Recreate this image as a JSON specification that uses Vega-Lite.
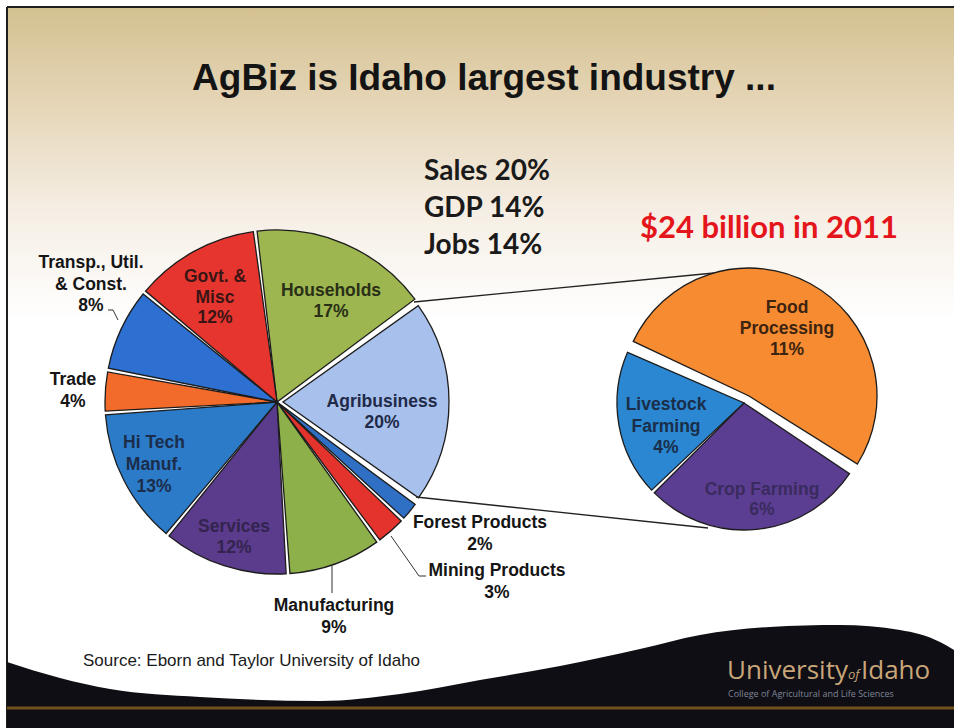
{
"$schema":"https://vega.github.io/schema/vega-lite/v6.json",
"width":954,"height":728,"autosize":"none","padding":0,"background":"#ffffff",
"config":{"view":{"stroke":null},"text":{"font":"Liberation Sans"}},
"datasets":{
"sectors":[
{"sector":"Households","share":17,"ord":1,"label":"Households\n17%"},
{"sector":"Agribusiness","share":20,"ord":2,"label":"Agribusiness\n20%"},
{"sector":"Forest Products","share":2,"ord":3,"label":"Forest Products\n2%"},
{"sector":"Mining Products","share":3,"ord":4,"label":"Mining Products\n3%"},
{"sector":"Manufacturing","share":9,"ord":5,"label":"Manufacturing\n9%"},
{"sector":"Services","share":12,"ord":6,"label":"Services\n12%"},
{"sector":"Hi Tech Manuf.","share":13,"ord":7,"label":"Hi Tech\nManuf.\n13%"},
{"sector":"Trade","share":4,"ord":8,"label":"Trade\n4%"},
{"sector":"Transp., Util. & Const.","share":8,"ord":9,"label":"Transp., Util.\n& Const.\n8%"},
{"sector":"Govt. & Misc","share":12,"ord":10,"label":"Govt. &\nMisc\n12%"}
],
"agri":[
{"sector":"Food Processing","share":11,"ord":1,"label":"Food\nProcessing\n11%"},
{"sector":"Crop Farming","share":6,"ord":2,"label":"Crop Farming\n6%"},
{"sector":"Livestock Farming","share":4,"ord":3,"label":"Livestock\nFarming\n4%"}
],
"wave":[{"x":7,"y":662},{"x":60,"y":678},{"x":110,"y":689},{"x":200,"y":697},{"x":320,"y":701},{"x":400,"y":694},{"x":480,"y":680},{"x":560,"y":666},{"x":640,"y":649},{"x":700,"y":635},{"x":770,"y":627},{"x":840,"y":625},{"x":900,"y":630},{"x":940,"y":642},{"x":954,"y":650}]
},
"resolve":{"scale":{"theta":"independent","color":"independent"}},
"layer":[
{"data":{"values":[{}]},"mark":{"type":"rect","color":{"gradient":"linear","x1":0,"y1":0,"x2":0,"y2":1,"stops":[{"offset":0,"color":"#d3c190"},{"offset":0.3,"color":"#e5d5b6"},{"offset":0.65,"color":"#f5eee4"},{"offset":1,"color":"#ffffff"}]}},
 "encoding":{"x":{"datum":7,"type":"quantitative","scale":{"domain":[0,954],"nice":false,"zero":false},"axis":null},"x2":{"datum":954},"y":{"datum":7,"type":"quantitative","scale":{"domain":[0,728],"nice":false,"zero":false,"reverse":true},"axis":null},"y2":{"datum":320}}},
{"data":{"values":[{}]},"mark":{"type":"rule","color":"#1e1e1e","strokeWidth":2},
 "encoding":{"x":{"datum":7,"type":"quantitative","scale":{"domain":[0,954],"nice":false,"zero":false},"axis":null},"x2":{"datum":954},"y":{"datum":7,"type":"quantitative","scale":{"domain":[0,728],"nice":false,"zero":false,"reverse":true},"axis":null},"y2":{"datum":7}}},
{"data":{"values":[{}]},"mark":{"type":"rule","color":"#1e1e1e","strokeWidth":2},
 "encoding":{"x":{"datum":7,"type":"quantitative","scale":{"domain":[0,954],"nice":false,"zero":false},"axis":null},"x2":{"datum":7},"y":{"datum":7,"type":"quantitative","scale":{"domain":[0,728],"nice":false,"zero":false,"reverse":true},"axis":null},"y2":{"datum":728}}},
{"data":{"name":"wave"},"mark":{"type":"area","color":"#0e0e14","interpolate":"monotone","orient":"vertical"},
 "encoding":{"x":{"field":"x","type":"quantitative","scale":{"domain":[0,954],"nice":false,"zero":false},"axis":null},"y":{"field":"y","type":"quantitative","scale":{"domain":[0,728],"nice":false,"zero":false,"reverse":true},"axis":null},"y2":{"datum":728}}},
{"data":{"values":[{}]},"mark":{"type":"rule","color":"#6f5119","strokeWidth":3},
 "encoding":{"x":{"datum":7,"type":"quantitative","scale":{"domain":[0,954],"nice":false,"zero":false},"axis":null},"x2":{"datum":954},"y":{"datum":708,"type":"quantitative","scale":{"domain":[0,728],"nice":false,"zero":false,"reverse":true},"axis":null},"y2":{"datum":708}}},
{"data":{"values":[{}]},"mark":{"type":"text","text":"University","font":"Open Sans","fontSize":26,"color":"#c9a679","align":"left","baseline":"alphabetic"},
 "encoding":{"x":{"datum":727,"type":"quantitative","scale":{"domain":[0,954],"nice":false,"zero":false},"axis":null},"y":{"datum":679,"type":"quantitative","scale":{"domain":[0,728],"nice":false,"zero":false,"reverse":true},"axis":null}}},
{"data":{"values":[{}]},"mark":{"type":"text","text":"of","font":"Open Sans","fontSize":13,"fontStyle":"italic","color":"#c9a679","align":"left","baseline":"alphabetic"},
 "encoding":{"x":{"datum":848,"type":"quantitative","scale":{"domain":[0,954],"nice":false,"zero":false},"axis":null},"y":{"datum":679,"type":"quantitative","scale":{"domain":[0,728],"nice":false,"zero":false,"reverse":true},"axis":null}}},
{"data":{"values":[{}]},"mark":{"type":"text","text":"Idaho","font":"Open Sans","fontSize":26,"color":"#c9a679","align":"left","baseline":"alphabetic"},
 "encoding":{"x":{"datum":861,"type":"quantitative","scale":{"domain":[0,954],"nice":false,"zero":false},"axis":null},"y":{"datum":679,"type":"quantitative","scale":{"domain":[0,728],"nice":false,"zero":false,"reverse":true},"axis":null}}},
{"data":{"values":[{}]},"mark":{"type":"text","text":"College of Agricultural and Life Sciences","font":"Open Sans","fontSize":9,"color":"#7f8597","align":"left","baseline":"alphabetic"},
 "encoding":{"x":{"datum":728,"type":"quantitative","scale":{"domain":[0,954],"nice":false,"zero":false},"axis":null},"y":{"datum":697,"type":"quantitative","scale":{"domain":[0,728],"nice":false,"zero":false,"reverse":true},"axis":null}}},
{"data":{"name":"sectors"},"transform":[{"stack":"share","groupby":[],"sort":[{"field":"ord","order":"ascending"}],"as":["t0","t1"]},{"filter":"datum.sector !== 'Agribusiness'"}],
 "mark":{"type":"arc","outerRadius":172,"padAngle":0.022,"stroke":"#1c1c1c","strokeWidth":1.3},
 "encoding":{"x":{"datum":277,"type":"quantitative","scale":{"domain":[0,954],"nice":false,"zero":false},"axis":null},"y":{"datum":402,"type":"quantitative","scale":{"domain":[0,728],"nice":false,"zero":false,"reverse":true},"axis":null},
  "theta":{"field":"t0","type":"quantitative","scale":{"domain":[0,100],"range":[-0.127,6.156]}},"theta2":{"field":"t1"},
  "color":{"field":"sector","type":"nominal","legend":null,"scale":{"domain":["Households","Agribusiness","Forest Products","Mining Products","Manufacturing","Services","Hi Tech Manuf.","Trade","Transp., Util. & Const.","Govt. & Misc"],"range":["#9db64f","#a8c0ec","#2f6fc4","#e4322c","#8db04a","#5b3b8b","#2c7bc9","#f26b2b","#2d70d2","#e6352f"]}}}},
{"data":{"name":"sectors"},"transform":[{"stack":"share","groupby":[],"sort":[{"field":"ord","order":"ascending"}],"as":["t0","t1"]},{"filter":"datum.sector === 'Agribusiness'"}],
 "mark":{"type":"arc","outerRadius":166,"padAngle":0.022,"stroke":"#1c1c1c","strokeWidth":1.3},
 "encoding":{"x":{"datum":283,"type":"quantitative","scale":{"domain":[0,954],"nice":false,"zero":false},"axis":null},"y":{"datum":402,"type":"quantitative","scale":{"domain":[0,728],"nice":false,"zero":false,"reverse":true},"axis":null},
  "theta":{"field":"t0","type":"quantitative","scale":{"domain":[0,100],"range":[-0.127,6.156]}},"theta2":{"field":"t1"},
  "color":{"field":"sector","type":"nominal","legend":null,"scale":{"domain":["Households","Agribusiness","Forest Products","Mining Products","Manufacturing","Services","Hi Tech Manuf.","Trade","Transp., Util. & Const.","Govt. & Misc"],"range":["#9db64f","#a8c0ec","#2f6fc4","#e4322c","#8db04a","#5b3b8b","#2c7bc9","#f26b2b","#2d70d2","#e6352f"]}}}},
{"data":{"name":"agri"},"transform":[{"stack":"share","groupby":[],"sort":[{"field":"ord","order":"ascending"}],"as":["t0","t1"]},{"filter":"datum.sector === 'Food Processing'"}],
 "mark":{"type":"arc","outerRadius":128,"padAngle":0.03,"stroke":"#1c1c1c","strokeWidth":1.3},
 "encoding":{"x":{"datum":749,"type":"quantitative","scale":{"domain":[0,954],"nice":false,"zero":false},"axis":null},"y":{"datum":396,"type":"quantitative","scale":{"domain":[0,728],"nice":false,"zero":false,"reverse":true},"axis":null},
  "theta":{"field":"t0","type":"quantitative","scale":{"domain":[0,21],"range":[-1.145,5.138]}},"theta2":{"field":"t1"},
  "color":{"field":"sector","type":"nominal","legend":null,"scale":{"domain":["Food Processing","Crop Farming","Livestock Farming"],"range":["#f68b31","#5b3e91","#2b87d1"]}}}},
{"data":{"name":"agri"},"transform":[{"stack":"share","groupby":[],"sort":[{"field":"ord","order":"ascending"}],"as":["t0","t1"]},{"filter":"datum.sector !== 'Food Processing'"}],
 "mark":{"type":"arc","outerRadius":127,"padAngle":0.03,"stroke":"#1c1c1c","strokeWidth":1.3},
 "encoding":{"x":{"datum":744,"type":"quantitative","scale":{"domain":[0,954],"nice":false,"zero":false},"axis":null},"y":{"datum":403,"type":"quantitative","scale":{"domain":[0,728],"nice":false,"zero":false,"reverse":true},"axis":null},
  "theta":{"field":"t0","type":"quantitative","scale":{"domain":[0,21],"range":[-1.145,5.138]}},"theta2":{"field":"t1"},
  "color":{"field":"sector","type":"nominal","legend":null,"scale":{"domain":["Food Processing","Crop Farming","Livestock Farming"],"range":["#f68b31","#5b3e91","#2b87d1"]}}}},
{"data":{"name":"sectors"},"transform":[{"filter":"datum.sector === 'Households'"}],"mark":{"type":"text","fontWeight":"bold","fontSize":17.5,"lineHeight":21,"lineBreak":"\n","color":"#2a2f17","align":"center","baseline":"middle"},
 "encoding":{"text":{"field":"label"},"x":{"datum":331,"type":"quantitative","scale":{"domain":[0,954],"nice":false,"zero":false},"axis":null},"y":{"datum":291,"type":"quantitative","scale":{"domain":[0,728],"nice":false,"zero":false,"reverse":true},"axis":null}}},
{"data":{"name":"sectors"},"transform":[{"filter":"datum.sector === 'Govt. & Misc'"}],"mark":{"type":"text","fontWeight":"bold","fontSize":17.5,"lineHeight":20.5,"lineBreak":"\n","color":"#3a1515","align":"center","baseline":"middle"},
 "encoding":{"text":{"field":"label"},"x":{"datum":215,"type":"quantitative","scale":{"domain":[0,954],"nice":false,"zero":false},"axis":null},"y":{"datum":277,"type":"quantitative","scale":{"domain":[0,728],"nice":false,"zero":false,"reverse":true},"axis":null}}},
{"data":{"name":"sectors"},"transform":[{"filter":"datum.sector === 'Agribusiness'"}],"mark":{"type":"text","fontWeight":"bold","fontSize":17.5,"lineHeight":21,"lineBreak":"\n","color":"#1f2b48","align":"center","baseline":"middle"},
 "encoding":{"text":{"field":"label"},"x":{"datum":382,"type":"quantitative","scale":{"domain":[0,954],"nice":false,"zero":false},"axis":null},"y":{"datum":402,"type":"quantitative","scale":{"domain":[0,728],"nice":false,"zero":false,"reverse":true},"axis":null}}},
{"data":{"name":"sectors"},"transform":[{"filter":"datum.sector === 'Hi Tech Manuf.'"}],"mark":{"type":"text","fontWeight":"bold","fontSize":17.5,"lineHeight":22,"lineBreak":"\n","color":"#1b2d4a","align":"center","baseline":"middle"},
 "encoding":{"text":{"field":"label"},"x":{"datum":154,"type":"quantitative","scale":{"domain":[0,954],"nice":false,"zero":false},"axis":null},"y":{"datum":443,"type":"quantitative","scale":{"domain":[0,728],"nice":false,"zero":false,"reverse":true},"axis":null}}},
{"data":{"name":"sectors"},"transform":[{"filter":"datum.sector === 'Services'"}],"mark":{"type":"text","fontWeight":"bold","fontSize":17.5,"lineHeight":21,"lineBreak":"\n","color":"#33244f","align":"center","baseline":"middle"},
 "encoding":{"text":{"field":"label"},"x":{"datum":234,"type":"quantitative","scale":{"domain":[0,954],"nice":false,"zero":false},"axis":null},"y":{"datum":527,"type":"quantitative","scale":{"domain":[0,728],"nice":false,"zero":false,"reverse":true},"axis":null}}},
{"data":{"name":"sectors"},"transform":[{"filter":"datum.sector === 'Transp., Util. & Const.'"}],"mark":{"type":"text","fontWeight":"bold","fontSize":17.5,"lineHeight":21.5,"lineBreak":"\n","color":"#151515","align":"center","baseline":"middle"},
 "encoding":{"text":{"field":"label"},"x":{"datum":91,"type":"quantitative","scale":{"domain":[0,954],"nice":false,"zero":false},"axis":null},"y":{"datum":263,"type":"quantitative","scale":{"domain":[0,728],"nice":false,"zero":false,"reverse":true},"axis":null}}},
{"data":{"name":"sectors"},"transform":[{"filter":"datum.sector === 'Trade'"}],"mark":{"type":"text","fontWeight":"bold","fontSize":17.5,"lineHeight":22,"lineBreak":"\n","color":"#151515","align":"center","baseline":"middle"},
 "encoding":{"text":{"field":"label"},"x":{"datum":73,"type":"quantitative","scale":{"domain":[0,954],"nice":false,"zero":false},"axis":null},"y":{"datum":380,"type":"quantitative","scale":{"domain":[0,728],"nice":false,"zero":false,"reverse":true},"axis":null}}},
{"data":{"name":"sectors"},"transform":[{"filter":"datum.sector === 'Forest Products'"}],"mark":{"type":"text","fontWeight":"bold","fontSize":17.5,"lineHeight":22,"lineBreak":"\n","color":"#151515","align":"center","baseline":"middle"},
 "encoding":{"text":{"field":"label"},"x":{"datum":480,"type":"quantitative","scale":{"domain":[0,954],"nice":false,"zero":false},"axis":null},"y":{"datum":523,"type":"quantitative","scale":{"domain":[0,728],"nice":false,"zero":false,"reverse":true},"axis":null}}},
{"data":{"name":"sectors"},"transform":[{"filter":"datum.sector === 'Mining Products'"}],"mark":{"type":"text","fontWeight":"bold","fontSize":17.5,"lineHeight":22,"lineBreak":"\n","color":"#151515","align":"center","baseline":"middle"},
 "encoding":{"text":{"field":"label"},"x":{"datum":497,"type":"quantitative","scale":{"domain":[0,954],"nice":false,"zero":false},"axis":null},"y":{"datum":571,"type":"quantitative","scale":{"domain":[0,728],"nice":false,"zero":false,"reverse":true},"axis":null}}},
{"data":{"name":"sectors"},"transform":[{"filter":"datum.sector === 'Manufacturing'"}],"mark":{"type":"text","fontWeight":"bold","fontSize":17.5,"lineHeight":22,"lineBreak":"\n","color":"#151515","align":"center","baseline":"middle"},
 "encoding":{"text":{"field":"label"},"x":{"datum":334,"type":"quantitative","scale":{"domain":[0,954],"nice":false,"zero":false},"axis":null},"y":{"datum":606,"type":"quantitative","scale":{"domain":[0,728],"nice":false,"zero":false,"reverse":true},"axis":null}}},
{"data":{"name":"agri"},"transform":[{"filter":"datum.sector === 'Food Processing'"}],"mark":{"type":"text","fontWeight":"bold","fontSize":17.5,"lineHeight":21,"lineBreak":"\n","color":"#3d2410","align":"center","baseline":"middle"},
 "encoding":{"text":{"field":"label"},"x":{"datum":787,"type":"quantitative","scale":{"domain":[0,954],"nice":false,"zero":false},"axis":null},"y":{"datum":308,"type":"quantitative","scale":{"domain":[0,728],"nice":false,"zero":false,"reverse":true},"axis":null}}},
{"data":{"name":"agri"},"transform":[{"filter":"datum.sector === 'Livestock Farming'"}],"mark":{"type":"text","fontWeight":"bold","fontSize":17.5,"lineHeight":21.5,"lineBreak":"\n","color":"#1a2e4a","align":"center","baseline":"middle"},
 "encoding":{"text":{"field":"label"},"x":{"datum":666,"type":"quantitative","scale":{"domain":[0,954],"nice":false,"zero":false},"axis":null},"y":{"datum":405,"type":"quantitative","scale":{"domain":[0,728],"nice":false,"zero":false,"reverse":true},"axis":null}}},
{"data":{"name":"agri"},"transform":[{"filter":"datum.sector === 'Crop Farming'"}],"mark":{"type":"text","fontWeight":"bold","fontSize":17.5,"lineHeight":20,"lineBreak":"\n","color":"#3a2b5e","align":"center","baseline":"middle"},
 "encoding":{"text":{"field":"label"},"x":{"datum":762,"type":"quantitative","scale":{"domain":[0,954],"nice":false,"zero":false},"axis":null},"y":{"datum":490,"type":"quantitative","scale":{"domain":[0,728],"nice":false,"zero":false,"reverse":true},"axis":null}}},
{"data":{"values":[{}]},"mark":{"type":"rule","color":"#222222","strokeWidth":1.3},
 "encoding":{"x":{"datum":414,"type":"quantitative","scale":{"domain":[0,954],"nice":false,"zero":false},"axis":null},"x2":{"datum":714},"y":{"datum":302,"type":"quantitative","scale":{"domain":[0,728],"nice":false,"zero":false,"reverse":true},"axis":null},"y2":{"datum":273}}},
{"data":{"values":[{}]},"mark":{"type":"rule","color":"#222222","strokeWidth":1.3},
 "encoding":{"x":{"datum":416,"type":"quantitative","scale":{"domain":[0,954],"nice":false,"zero":false},"axis":null},"x2":{"datum":708},"y":{"datum":497,"type":"quantitative","scale":{"domain":[0,728],"nice":false,"zero":false,"reverse":true},"axis":null},"y2":{"datum":528}}},
{"data":{"values":[{}]},"mark":{"type":"rule","color":"#333333","strokeWidth":1},
 "encoding":{"x":{"datum":391,"type":"quantitative","scale":{"domain":[0,954],"nice":false,"zero":false},"axis":null},"x2":{"datum":419},"y":{"datum":536,"type":"quantitative","scale":{"domain":[0,728],"nice":false,"zero":false,"reverse":true},"axis":null},"y2":{"datum":576}}},
{"data":{"values":[{}]},"mark":{"type":"rule","color":"#333333","strokeWidth":1},
 "encoding":{"x":{"datum":419,"type":"quantitative","scale":{"domain":[0,954],"nice":false,"zero":false},"axis":null},"x2":{"datum":426},"y":{"datum":576,"type":"quantitative","scale":{"domain":[0,728],"nice":false,"zero":false,"reverse":true},"axis":null},"y2":{"datum":576}}},
{"data":{"values":[{}]},"mark":{"type":"rule","color":"#333333","strokeWidth":1},
 "encoding":{"x":{"datum":332,"type":"quantitative","scale":{"domain":[0,954],"nice":false,"zero":false},"axis":null},"x2":{"datum":332},"y":{"datum":566,"type":"quantitative","scale":{"domain":[0,728],"nice":false,"zero":false,"reverse":true},"axis":null},"y2":{"datum":593}}},
{"data":{"values":[{}]},"mark":{"type":"rule","color":"#333333","strokeWidth":1},
 "encoding":{"x":{"datum":108,"type":"quantitative","scale":{"domain":[0,954],"nice":false,"zero":false},"axis":null},"x2":{"datum":113},"y":{"datum":310,"type":"quantitative","scale":{"domain":[0,728],"nice":false,"zero":false,"reverse":true},"axis":null},"y2":{"datum":310}}},
{"data":{"values":[{}]},"mark":{"type":"rule","color":"#333333","strokeWidth":1},
 "encoding":{"x":{"datum":113,"type":"quantitative","scale":{"domain":[0,954],"nice":false,"zero":false},"axis":null},"x2":{"datum":118},"y":{"datum":310,"type":"quantitative","scale":{"domain":[0,728],"nice":false,"zero":false,"reverse":true},"axis":null},"y2":{"datum":320}}},
{"data":{"values":[{}]},"mark":{"type":"text","text":"AgBiz is Idaho largest industry ...","fontWeight":"bold","fontSize":37,"color":"#141414","align":"center","baseline":"alphabetic"},
 "encoding":{"x":{"datum":484,"type":"quantitative","scale":{"domain":[0,954],"nice":false,"zero":false},"axis":null},"y":{"datum":90,"type":"quantitative","scale":{"domain":[0,728],"nice":false,"zero":false,"reverse":true},"axis":null}}},
{"data":{"values":[{}]},"mark":{"type":"text","text":["Sales 20%","GDP 14%","Jobs 14%"],"font":"Lato","fontWeight":"bold","fontSize":28,"lineHeight":37,"color":"#1a1a1a","align":"left","baseline":"alphabetic"},
 "encoding":{"x":{"datum":424,"type":"quantitative","scale":{"domain":[0,954],"nice":false,"zero":false},"axis":null},"y":{"datum":180,"type":"quantitative","scale":{"domain":[0,728],"nice":false,"zero":false,"reverse":true},"axis":null}}},
{"data":{"values":[{}]},"mark":{"type":"text","text":"$24 billion in 2011","font":"Lato","fontWeight":"bold","fontSize":31,"color":"#e5151c","align":"left","baseline":"alphabetic"},
 "encoding":{"x":{"datum":640,"type":"quantitative","scale":{"domain":[0,954],"nice":false,"zero":false},"axis":null},"y":{"datum":238,"type":"quantitative","scale":{"domain":[0,728],"nice":false,"zero":false,"reverse":true},"axis":null}}},
{"data":{"values":[{}]},"mark":{"type":"text","text":"Source:  Eborn and Taylor University of Idaho","fontSize":17,"color":"#1a1a1a","align":"left","baseline":"alphabetic"},
 "encoding":{"x":{"datum":83,"type":"quantitative","scale":{"domain":[0,954],"nice":false,"zero":false},"axis":null},"y":{"datum":666,"type":"quantitative","scale":{"domain":[0,728],"nice":false,"zero":false,"reverse":true},"axis":null}}}
]
}
